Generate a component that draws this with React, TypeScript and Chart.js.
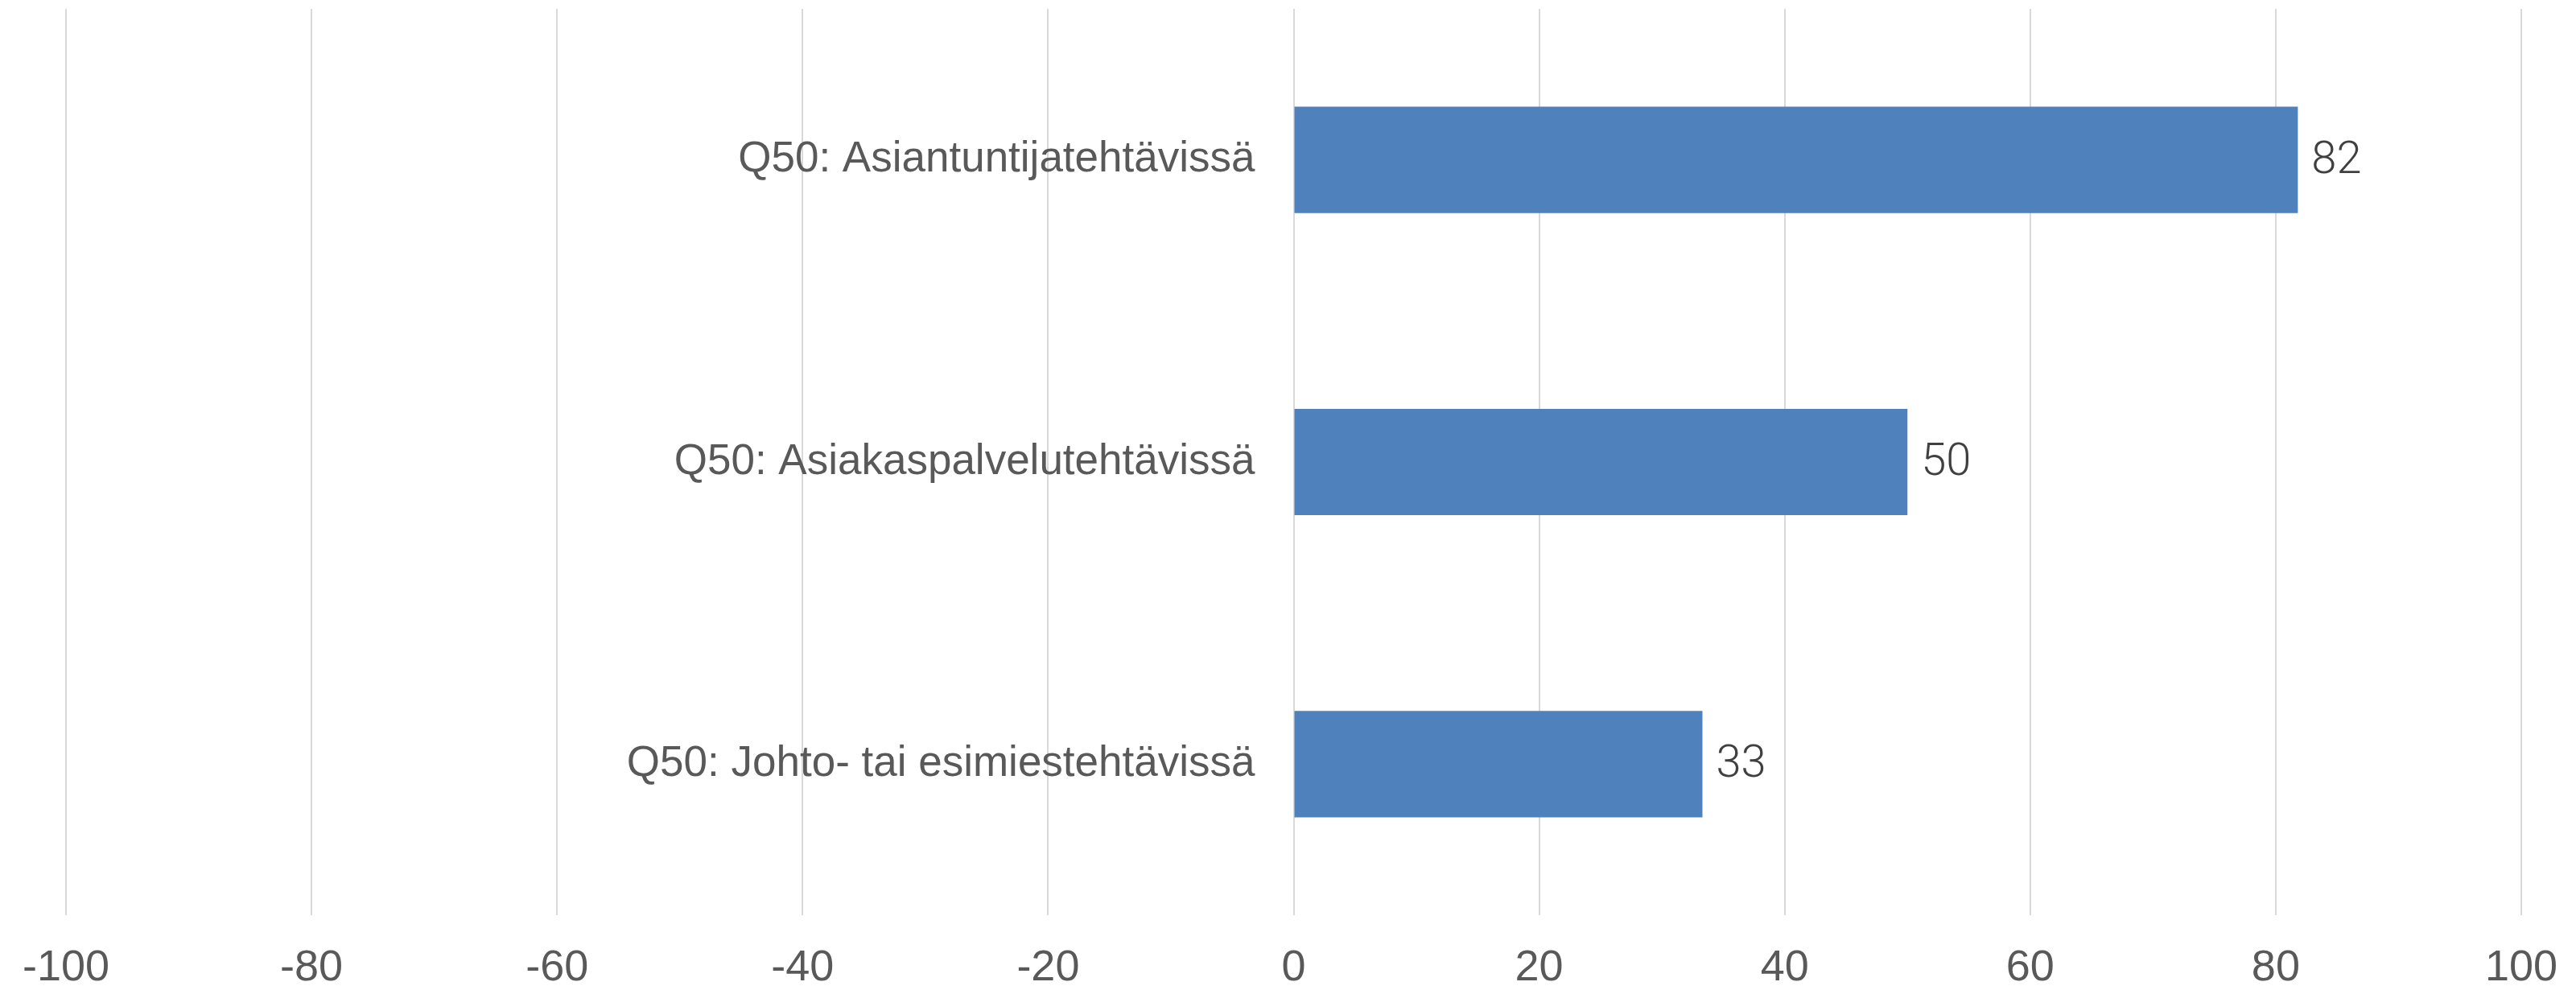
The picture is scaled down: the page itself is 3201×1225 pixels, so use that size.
import React, { useEffect, useRef } from "react";
import { Chart, registerables } from "chart.js";

Chart.register(...registerables);

const categories: string[] = [
  "Q50: Asiantuntijatehtävissä",
  "Q50: Asiakaspalvelutehtävissä",
  "Q50: Johto- tai esimiestehtävissä",
];
const values: number[] = [81.8, 50, 33.3];
const xMin = -100;
const xMax = 100;
const xStep = 20;

const textColor = "#595959";
const barColor = "#4F81BD";

const categoryLabelPlugin = {
  id: "categoryLabels",
  afterDatasetsDraw(chart: any) {
    const { ctx, scales } = chart;
    const xs = scales.x;
    const ys = scales.y;
    const labels: string[] = chart.data.labels;
    ctx.save();
    ctx.font = '53px "Liberation Sans", Arial, sans-serif';
    ctx.fillStyle = textColor;
    ctx.textAlign = "right";
    ctx.textBaseline = "middle";
    const x0 = xs.getPixelForValue(0);
    labels.forEach((lab, i) => {
      ctx.fillText(lab, x0 - 48, ys.getPixelForValue(i));
    });
    ctx.restore();
  },
};

const valueLabelPlugin = {
  id: "valueLabels",
  afterDatasetsDraw(chart: any) {
    const { ctx } = chart;
    const meta = chart.getDatasetMeta(0);
    const data: number[] = chart.data.datasets[0].data;
    ctx.save();
    ctx.font = '300 56px Roboto, "Open Sans", sans-serif';
    ctx.fillStyle = "#404040";
    ctx.textAlign = "left";
    ctx.textBaseline = "middle";
    meta.data.forEach((el: any, i: number) => {
      ctx.fillText(String(Math.round(data[i])), el.x + 17, el.y + 2);
    });
    ctx.restore();
  },
};

export default function App() {
  const ref = useRef<HTMLCanvasElement | null>(null);
  useEffect(() => {
    if (!ref.current) return;
    const chart = new Chart(ref.current, {
      type: "bar",
      data: {
        labels: categories,
        datasets: [
          {
            data: values,
            backgroundColor: barColor,
            borderWidth: 0,
            barPercentage: 0.352,
            categoryPercentage: 1,
          },
        ],
      },
      options: {
        indexAxis: "y",
        animation: false,
        responsive: false,
        maintainAspectRatio: false,
        devicePixelRatio: 1,
        layout: { padding: { left: 82, right: 68, top: 11, bottom: 0 } },
        plugins: {
          legend: { display: false },
          tooltip: { enabled: false },
        },
        scales: {
          x: {
            type: "linear",
            min: xMin,
            max: xMax,
            afterFit: (scale: any) => {
              scale.height = 88;
              scale.paddingLeft = 0;
              scale.paddingRight = 0;
            },
            ticks: {
              stepSize: xStep,
              color: textColor,
              font: { family: '"Liberation Sans", Arial, sans-serif', size: 54 },
              padding: 34,
              maxRotation: 0,
              autoSkip: false,
            },
            grid: { color: "#D9D9D9", lineWidth: 2, drawTicks: false },
            border: { display: false },
          },
          y: {
            type: "category",
            display: false,
            grid: { display: false },
          },
        },
      },
      plugins: [categoryLabelPlugin, valueLabelPlugin],
    } as any);
    return () => chart.destroy();
  }, []);
  return (
    <div style={{ position: "fixed", left: 0, top: 0, width: 3201, height: 1225, background: "#fff" }}>
      <canvas ref={ref} width={3201} height={1225} style={{ width: 3201, height: 1225, display: "block" }} />
    </div>
  );
}
